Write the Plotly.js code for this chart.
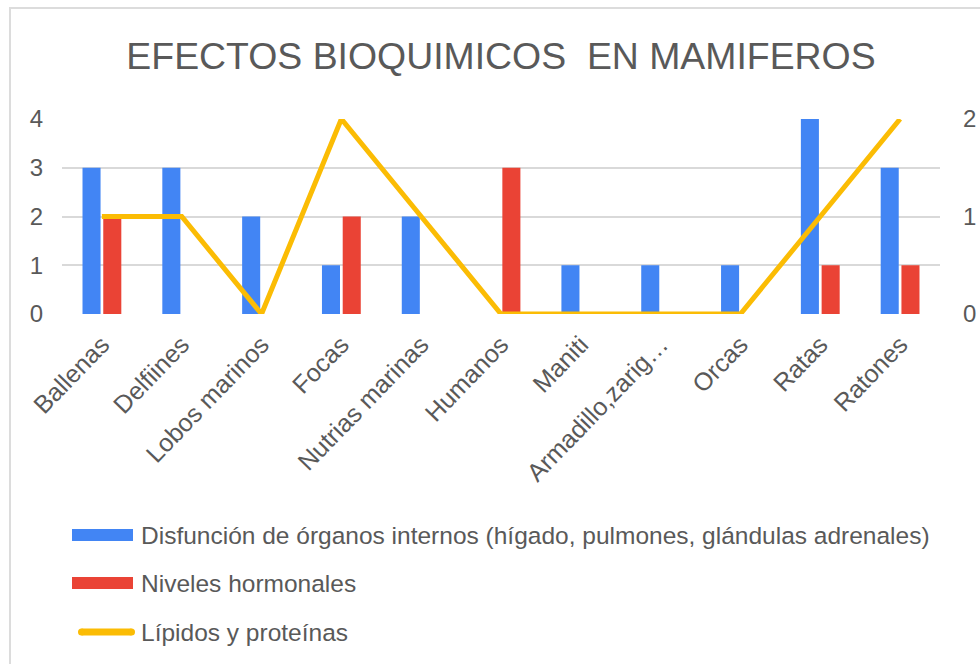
<!DOCTYPE html>
<html>
<head>
<meta charset="utf-8">
<script src="https://cdn.plot.ly/plotly-3.0.1.min.js"></script>
<style>
  html, body { margin:0; padding:0; background:#fff; }
  #frame { position:absolute; left:9px; top:7px; width:980px; height:664px;
           border-left:2px solid #dcdcdc; border-top:2px solid #dcdcdc; }
  #chart { position:absolute; left:0; top:0; width:980px; height:664px; }
</style>
</head>
<body>
<div id="frame"></div>
<div id="chart"></div>
<script>
const categories = ["Ballenas", "Delfiines", "Lobos marinos", "Focas", "Nutrias marinas", "Humanos", "Maniti", "Armadillo,zarig…", "Orcas", "Ratas", "Ratones"];
const organos    = [3, 3, 2, 1, 2, 0, 1, 1, 1, 4, 3];
const hormonales = [2, 0, 0, 2, 0, 3, 0, 0, 0, 1, 1];
const lipidos    = [1, 1, 0, 2, 1, 0, 0, 0, 0, 1, 2];
const seriesNames = ["Disfunción de órganos internos (hígado, pulmones, glándulas adrenales)", "Niveles hormonales", "Lípidos y proteínas"];
const seriesColors = ["#4285F4", "#EA4335", "#FBBC04"];
const leftTicks = [0, 1, 2, 3, 4];
const rightTicks = [0, 1, 2];
const titleText = "EFECTOS BIOQUIMICOS  EN MAMIFEROS";

const W = 980, H = 664;
const L = 62, R = 940, T = 119, B = 314;
const px2x = p => (p - L) / (R - L);
const px2y = p => (B - p) / (B - T);
const FONT = "Liberation Sans, Arial, sans-serif";
const GREY = "#595959";

const traces = [
  { type: "bar", x: categories, y: organos, name: seriesNames[0], marker: { color: seriesColors[0] }, showlegend: false, hoverinfo: "x+y" },
  { type: "bar", x: categories, y: hormonales, name: seriesNames[1], marker: { color: seriesColors[1] }, showlegend: false, hoverinfo: "x+y" },
  { type: "scatter", mode: "lines", x: categories, y: lipidos, yaxis: "y2", name: seriesNames[2],
    line: { color: seriesColors[2], width: 5 }, showlegend: false, hoverinfo: "x+y" }
];

// custom legend (wide swatches like the reference)
const legendY = [535, 583, 632];
const shapes = [];
const annotations = [];
for (let i = 0; i < 3; i++) {
  const cy = legendY[i];
  if (i < 2) {
    shapes.push({ type: "rect", xref: "paper", yref: "paper",
      x0: px2x(72), x1: px2x(133), y0: px2y(cy - 6), y1: px2y(cy + 6),
      fillcolor: seriesColors[i], line: { width: 0 } });
  } else {
    // rounded-cap line swatch
    const r = 3.5;
    shapes.push({ type: "rect", xref: "paper", yref: "paper",
      x0: px2x(78 + r), x1: px2x(135 - r), y0: px2y(cy - r), y1: px2y(cy + r),
      fillcolor: seriesColors[i], line: { width: 0 } });
    shapes.push({ type: "circle", xref: "paper", yref: "paper",
      x0: px2x(78), x1: px2x(78 + 2 * r), y0: px2y(cy - r), y1: px2y(cy + r),
      fillcolor: seriesColors[i], line: { width: 0 } });
    shapes.push({ type: "circle", xref: "paper", yref: "paper",
      x0: px2x(135 - 2 * r), x1: px2x(135), y0: px2y(cy - r), y1: px2y(cy + r),
      fillcolor: seriesColors[i], line: { width: 0 } });
  }
  annotations.push({ xref: "paper", yref: "paper", x: px2x(139), y: px2y(cy),
    xanchor: "left", yanchor: "middle", showarrow: false, text: seriesNames[i],
    font: { family: FONT, size: 24.5, color: GREY } });
}

const layout = {
  width: W, height: H,
  paper_bgcolor: "rgba(0,0,0,0)", plot_bgcolor: "rgba(0,0,0,0)",
  margin: { l: L, r: W - R, t: T, b: H - B, pad: 0 },
  title: { text: titleText, x: 0.5, xref: "paper", xanchor: "center",
           y: 1 - 56 / H, yref: "container", yanchor: "middle",
           font: { family: FONT, size: 37.4, color: GREY } },
  font: { family: FONT, color: GREY },
  barmode: "group", bargap: 0.48, bargroupgap: 0.13,
  showlegend: false,
  xaxis: { type: "category", tickangle: -46, tickfont: { size: 25, color: GREY },
           showgrid: false, zeroline: false, showline: false, ticks: "", ticklabelstandoff: 10 },
  yaxis: { range: [0, 4], tickvals: leftTicks, ticktext: leftTicks.map(String),
           tickfont: { size: 24, color: GREY }, gridcolor: "#d9d9d9", gridwidth: 2,
           zeroline: false, showline: false, ticks: "", ticklabelstandoff: 18 },
  yaxis2: { range: [0, 2], tickvals: rightTicks, ticktext: rightTicks.map(String),
            overlaying: "y", side: "right", showgrid: false, zeroline: false,
            tickfont: { size: 24, color: GREY }, ticks: "", ticklabelstandoff: 22 },
  shapes: shapes,
  annotations: annotations
};

Plotly.newPlot("chart", traces, layout, { displayModeBar: false, staticPlot: true });
</script>
</body>
</html>
